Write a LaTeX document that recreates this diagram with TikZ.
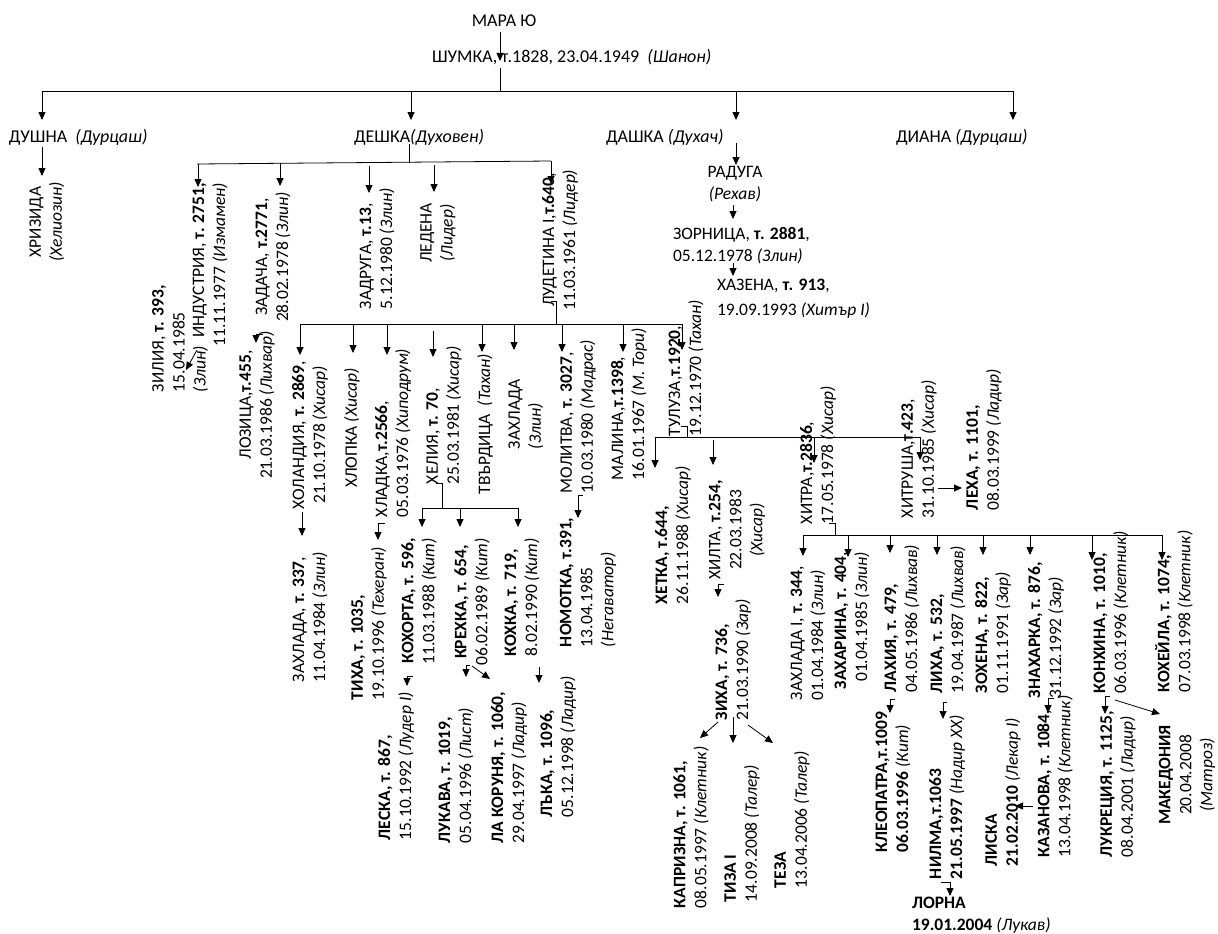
\documentclass[tikz,border=0pt]{standalone}
\usepackage{fontspec}
\setmainfont{Carlito}
\usetikzlibrary{arrows.meta}
\newcommand\rf{\fontsize{17.5}{21}\selectfont}
\newcommand\tf{\fontsize{18}{22}\selectfont}
\newcommand\hf{\fontsize{17.5}{22}\selectfont}
\newcommand\kb[1]{\textbf{#1}}
\newcommand\ki[1]{\textit{#1}}
\begin{document}
\begin{tikzpicture}[x=1pt,y=-1pt,
  every node/.style={inner sep=0pt,outer sep=0pt},
  ln/.style={line width=0.8pt},
  arr/.style={ln,-{Triangle[length=8pt,width=7pt]}},
  rl/.style={rotate=90,anchor=west,align=left,font=\rf},
  rc/.style={rotate=90,anchor=center,align=center,font=\rf},
  rr/.style={rotate=90,anchor=east,align=right,font=\rf},
  toptext/.style={anchor=west,font=\tf},
  hz/.style={anchor=west,align=left,font=\hf}]
\fill[white] (0,0) rectangle (1218,934);
\useasboundingbox (0,0) rectangle (1218,934);

% ---------- top ----------
\node[font=\tf] (mara) at (504,21) {МАРА Ю};
\node[toptext] (shumka) at (432,57) {ШУМКА, т.1828, 23.04.1949~~\ki{(Шанон)}};
\node[toptext] (dushna) at (9,137) {ДУШНА~~\ki{(Дурцаш)}};
\node[toptext] (deshka) at (354,137) {ДЕШКА\ki{(Духовен)}};
\node[toptext] (dashka) at (606,137) {ДАШКА \ki{(Духач)}};
\node[toptext] (diana) at (896,137) {ДИАНА \ki{(Дурцаш)}};

\draw[arr] (500,32) coordinate (c1) -- (500,61) coordinate (c2);
\draw[ln] (500,68) coordinate (c3) -- (500,91) coordinate (bus0);
\draw[ln] (42,91) coordinate (bus0l) -- (1013,91) coordinate (bus0r);
\foreach \x/\n in {42/a,411/b,736/c,1013/d}
  \draw[arr] (\x,91) coordinate (t0\n) -- (\x,120) coordinate (t1\n);

% ---------- ДУШНА ----------
\node[rc] (hriz) at (47,222) {ХРИЗИДА\\\ki{(Хелиозин)}};
\draw[arr] (42,147) coordinate (du1) -- (42,176) coordinate (du2);

% ---------- ДЕШКА ----------
\draw[ln] (409,144) coordinate (de0) -- (409,163) coordinate (de1);
\draw[ln] (197,164) coordinate (deL) -- (551,161) coordinate (deR);
\node[rr] (indu) at (210,183) {ИНДУСТРИЯ, \kb{т. 2751,}\\11.11.1977 \ki{(Измамен)}};
\node[rc] (zadacha) at (273,257) {ЗАДАЧА, \kb{т.2771},\\28.02.1978 \ki{(Злин)}};
\node[rl] (zadruga) at (377,309) {ЗАДРУГА, \kb{т.13},\\5.12.1980 \ki{(Злин)}};
\node[rc] (ledena) at (438,233) {ЛЕДЕНА\\\ki{(Лидер)}};
\node[rc] (ludet) at (560,240) {ЛУДЕТИНА I,\kb{т.640},\\11.03.1961 \ki{(Лидер)}};
\draw[arr] (198,164) coordinate (i1) -- (198,187) coordinate (i2);
\draw[arr] (280,163) coordinate (z1) -- (280,186) coordinate (z2);
\draw[arr] (369,166) coordinate (zr1) -- (369,193) coordinate (zr2);
\draw[arr] (434,165) coordinate (l1) -- (434,192) coordinate (l2);
\draw[arr] (551,161) coordinate (lu1) -- (551,184) coordinate (lu2);

\node[rl] (zilia) at (180,392) {ЗИЛИЯ, \kb{т. 393,}\\15.04.1985\\\ki{(Злин)}};
\draw[arr] (197,350) coordinate (zi1) -- (186,370) coordinate (zi2);
\node[rc] (lozica) at (257,405) {ЛОЗИЦА,\kb{т.455},\\21.03.1986 \ki{(Лихвар)}};
\draw[arr] (263,334) coordinate (lo1) -- (256,334) -- (256,343) coordinate (lo2);

% ---------- ЛУДЕТИНА children ----------
\draw[ln] (551,301) coordinate (lud0) -- (556,301) -- (556,324) coordinate (lud1);
\draw[ln] (300,324) coordinate (luL) -- (682,324) coordinate (luR);
\node[rc] (holand) at (310,435) {ХОЛАНДИЯ, \kb{т. 2869},\\21.10.1978 \ki{(Хисар)}};
\node[rc] (hlopka) at (352,428) {ХЛОПКА \ki{(Хисар)}};
\node[rl] (hladka) at (393,517) {ХЛАДКА,\kb{т.2566},\\05.03.1976 \ki{(Хиподрум)}};
\node[rl] (helia) at (444,484) {ХЕЛИЯ, \kb{т. 70},\\25.03.1981 \ki{(Хисар)}};
\node[rc] (tvardica) at (485,424) {ТВЪРДИЦА~~\ki{(Тахан)}};
\node[rl] (zahlada) at (526,449) {ЗАХЛАДА\\\ki{(Злин)}};
\node[rl] (molitva) at (578,493) {МОЛИТВА, \kb{т. 3027},\\10.03.1980 \ki{(Мадрас)}};
\node[rl] (malina) at (629,480) {МАЛИНА,\kb{т.1398},\\16.01.1967 \ki{(М. Тори)}};
\node[rl] (tuluza) at (686,436) {ТУЛУЗА,\kb{т.1920},\\19.12.1970 \ki{(Тахан)}};
\foreach \x/\s/\t/\n in {300/324/355/a,353/324/353/b,387/324/355/c,433/331/357/d,482/324/352/e,514/324/350/f,562/324/352/g,623/324/352/h,682/324/350/i}
  \draw[arr] (\x,\s) coordinate (lk\n) -- (\x,\t) coordinate (lt\n);

\node[rl] (zahl337) at (310,682) {ЗАХЛАДА, \kb{т. 337},\\11.04.1984 \ki{(Злин)}};
\draw[arr] (302,512) coordinate (ho1) -- (302,536) coordinate (ho2);
\node[rl] (tiha) at (369,700) {\kb{ТИХА, т. 1035,}\\19.10.1996 \ki{(Техеран)}};
\draw[arr] (385,523) coordinate (hl1) -- (378,523) -- (378,540) coordinate (hl2);

% ХЕЛИЯ children
\draw[ln] (436,483) coordinate (he0) -- (442,483) -- (442,508) coordinate (he1);
\draw[ln] (422,508) coordinate (heL) -- (518,508) coordinate (heR);
\foreach \x/\n in {422/a,460/b,518/c}
  \draw[arr] (\x,508) coordinate (hk\n) -- (\x,527) coordinate (ht\n);
\node[rr] (kohorta) at (419,538) {\kb{КОХОРТА, т. 596,}\\11.03.1988 \ki{(Кит)}};
\node[rl] (leska) at (396,840) {\kb{ЛЕСКА, т. 867,}\\15.10.1992 \ki{(Лудер I)}};
\draw[arr] (413,676) coordinate (ko1) -- (407,676) -- (407,686) coordinate (ko2);
\node[rc] (krehka) at (472,602) {\kb{КРЕХКА, т. 654,}\\06.02.1989 \ki{(Кит)}};
\node[rl] (lukava) at (456,843) {\kb{ЛУКАВА, т. 1019,}\\05.04.1996 \ki{(Лист)}};
\node[rl] (lakor) at (509,843) {\kb{ЛА КОРУНЯ, т. 1060,}\\29.04.1997 \ki{(Ладир)}};
\draw[arr] (470,665) coordinate (kr1) -- (466,665) -- (466,677) coordinate (kr2);
\draw[arr] (472,666) coordinate (kr3) -- (490,679) coordinate (kr4);
\node[rl] (kohka) at (522,656) {\kb{КОХКА, т. 719,}\\8.02.1990 \ki{(Кит)}};
\node[rl] (lyka) at (558,817) {\kb{ЛЪКА, т. 1096,}\\05.12.1998 \ki{(Ладир)}};
\draw[arr] (539,667) coordinate (kh1) -- (539,683) coordinate (kh2);
\node[rl] (nomotka) at (588,647) {\kb{НОМОТКА, т.391,}\\13.04.1985\\\ki{(Негаватор)}};
\draw[arr] (583,495) coordinate (mo1) -- (578,495) -- (578,518) coordinate (mo2);

% ---------- ТУЛУЗА children ----------
\draw[ln] (681,426) coordinate (tu0) -- (687,426) -- (687,437) coordinate (tu1);
\draw[ln] (655,437) coordinate (tuL) -- (920,437) coordinate (tuR);
\foreach \x/\s/\t/\n in {655/437/468/a,713/440/465/b,814/437/463/c,920/437/460/d}
  \draw[arr] (\x,\s) coordinate (tk\n) -- (\x,\t) coordinate (tt\n);
\node[rl] (hetka) at (673,604) {\kb{ХЕТКА, т.644,}\\26.11.1988 \ki{(Хисар)}};
\node[rc] (hilta) at (737,530) {ХИЛТА, \kb{т.254,}\\22.03.1983\\\ki{(Хисар)}};
\node[rl] (hitra) at (818,524) {ХИТРА,\kb{т.2836},\\17.05.1978 \ki{(Хисар)}};
\node[rl] (hitrusha) at (919,518) {ХИТРУША,\kb{т.423},\\31.10.1985 \ki{(Хисар)}};
\node[rl] (leha) at (984,510) {\kb{ЛЕХА, т. 1101,}\\08.03.1999 \ki{(Ладир)}};
\draw[arr] (938,488) coordinate (hu1) -- (962,488) coordinate (hu2);

\node[rl] (ziha) at (733,720) {\kb{ЗИХА, т. 736,}\\21.03.1990 \ki{(Зар)}};
\draw[arr] (724,584) coordinate (hi1) -- (718,584) -- (718,597) coordinate (hi2);
\node[rl] (kapr) at (691,908) {\kb{КАПРИЗНА, т. 1061,}\\08.05.1997 \ki{(Клетник)}};
\node[rl] (tiza) at (742,902) {\kb{ТИЗА I}\\14.09.2008 \ki{(Талер)}};
\node[rl] (teza) at (792,888) {\kb{ТЕЗА}\\13.04.2006 \ki{(Талер)}};
\draw[arr] (718,722) coordinate (zh1) -- (700,738) coordinate (zh2);
\draw[arr] (733,717) coordinate (zh3) -- (733,743) coordinate (zh4);
\draw[arr] (748,725) coordinate (zh5) -- (773,743) coordinate (zh6);

% ---------- ХИТРА children ----------
\draw[ln] (829,523) coordinate (ht0) -- (835,523) -- (835,535) coordinate (ht1);
\draw[ln] (803,535) coordinate (xL) -- (1162,535) coordinate (xR);
\foreach \x/\t/\n in {803/556/a,848/557/b,890/553/c,937/555/d,983/555/e,1030/555/f,1092/560/g,1162/560/h}
  \draw[arr] (\x,535) coordinate (xk\n) -- (\x,\t) coordinate (xt\n);
\node[rl] (zahI) at (808,700) {ЗАХЛАДА I, \kb{т. 344},\\01.04.1984 \ki{(Злин)}};
\node[rr] (zahar) at (852,552) {\kb{ЗАХАРИНА, т. 404},\\01.04.1985 \ki{(Злин)}};
\node[rl] (lahia) at (902,692) {\kb{ЛАХИЯ, т. 479,}\\04.05.1986 \ki{(Лихвав)}};
\node[rl] (lixa) at (948,693) {\kb{ЛИХА, т. 532,}\\19.04.1987 \ki{(Лихвав)}};
\node[rl] (zohena) at (993,693) {\kb{ЗОХЕНА, т. 822,}\\01.11.1991 \ki{(Зар)}};
\node[rl] (znah) at (1046,698) {\kb{ЗНАХАРКА, т. 876,}\\31.12.1992 \ki{(Зар)}};
\node[rl] (konh) at (1111,693) {\kb{КОНХИНА, т. 1010,}\\06.03.1996 \ki{(Клетник)}};
\node[rl] (koheila) at (1174,692) {\kb{КОХЕЙЛА, т. 1074,}\\07.03.1998 \ki{(Клетник)}};

\node[rl] (kleo) at (893,852) {\kb{КЛЕОПАТРА,т.1009}\\\kb{06.03.1996} \ki{(Кит)}};
\draw[arr] (895,699) coordinate (la1) -- (890,699) -- (890,713) coordinate (la2);
\node[rl] (nilma) at (947,879) {\kb{НИЛМА,т.1063}\\\kb{21.05.1997} \ki{(Надир XX)}};
\draw[arr] (947,702) coordinate (li1) -- (943,702) -- (943,719) coordinate (li2);
\node[hz] (lorna) at (912,915) {\kb{ЛОРНА}\\\kb{19.01.2004} \ki{(Лукав)}};
\draw[arr] (941,882) coordinate (ni1) -- (950,882) -- (950,896) coordinate (ni2);
\node[rl] (liska) at (1003,866) {\kb{ЛИСКА}\\\kb{21.02.2010} \ki{(Лекар I)}};
\node[rl] (kazan) at (1055,857) {\kb{КАЗАНОВА, т. 1084,}\\13.04.1998 \ki{(Клетник)}};
\draw[arr] (1054,698) coordinate (zn1) -- (1048,698) -- (1048,713) coordinate (zn2);
\draw[arr] (1033,806) coordinate (ka1) -- (1015,806) coordinate (ka2);
\node[rl] (lukr) at (1118,857) {\kb{ЛУКРЕЦИЯ, т. 1125,}\\08.04.2001 \ki{(Ладир)}};
\node[rc] (maked) at (1187,775) {\kb{МАКЕДОНИЯ}\\20.04.2008\\\ki{(Матроз)}};
\draw[arr] (1110,696) coordinate (kn1) -- (1105,696) -- (1105,714) coordinate (kn2);
\draw[arr] (1115,700) coordinate (kn3) -- (1160,714) coordinate (kn4);

% ---------- ДАШКА ----------
\draw[arr] (736,143) coordinate (da1) -- (736,165) coordinate (da2);
\node[align=center,font=\hf] (raduga) at (735,184) {РАДУГА\\\ki{(Рехав)}};
\draw[arr] (733,205) coordinate (ra1) -- (733,219) coordinate (ra2);
\node[hz] (zornica) at (673,246) {ЗОРНИЦА, \kb{т. 2881},\\05.12.1978 \ki{(Злин)}};
\draw[arr] (733,263) coordinate (zo1) -- (733,276) coordinate (zo2);
\node[hz] (hazena) at (717,299) {ХАЗЕНА, \kb{т. 913},\\[3pt]19.09.1993 \ki{(Хитър I)}};
\end{tikzpicture}
\end{document}
